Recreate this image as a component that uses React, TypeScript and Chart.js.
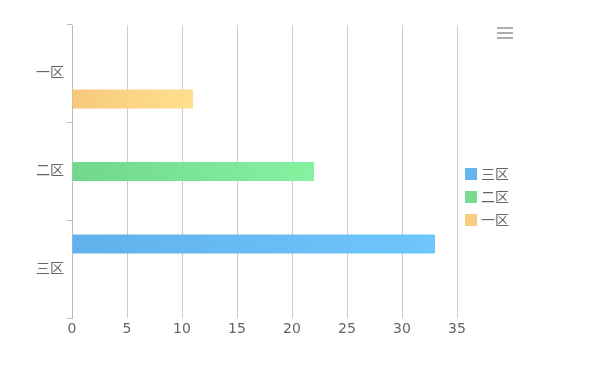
import React, { useEffect, useRef } from "react";
import { Chart, registerables } from "chart.js";

Chart.register(...registerables);

const categories = ["一区", "二区", "三区"];
const seriesNames = ["三区", "二区", "一区"];
const seriesValues: (number | null)[][] = [
  [null, null, 33],
  [null, 22, null],
  [11, null, null],
];
const xTicks = [0, 5, 10, 15, 20, 25, 30, 35];
const gradientStops = [
  ["#62b0ec", "#6ec6fd"],
  ["#72d78c", "#85f2a0"],
  ["#f7c87c", "#fee08d"],
];
const legendColors = ["#64b4f0", "#7adb90", "#f9cd7d"];

const FONT = "'DejaVu Sans', 'Noto Sans CJK SC', sans-serif";

export default function App() {
  const ref = useRef<HTMLCanvasElement | null>(null);

  useEffect(() => {
    document.body.style.margin = "0";
    const canvas = ref.current!;
    const makeGrad = (idx: number) => (ctx: any) => {
      const chart = ctx.chart;
      const area = chart.chartArea;
      if (!area) return gradientStops[idx][0];
      const xs = chart.scales.x;
      const x0 = xs.getPixelForValue(0);
      const v = ctx.raw ?? 0;
      const x1 = xs.getPixelForValue(v);
      const g = chart.ctx.createLinearGradient(x0, 0, Math.max(x1, x0 + 1), 0);
      g.addColorStop(0, gradientStops[idx][0]);
      g.addColorStop(1, gradientStops[idx][1]);
      return g;
    };

    const toolbox = {
      id: "toolbox",
      afterDraw(chart: any) {
        const c = chart.ctx;
        c.save();
        c.strokeStyle = "#999";
        c.lineWidth = 1.6;
        for (const y of [28, 33, 38]) {
          c.beginPath();
          c.moveTo(497, y);
          c.lineTo(513, y);
          c.stroke();
        }
        c.restore();
      },
    };

    const customLegend = {
      id: "customLegend",
      afterDraw(chart: any) {
        const c = chart.ctx;
        c.save();
        c.font = `14px ${FONT}`;
        c.textBaseline = "middle";
        chart.data.datasets.forEach((ds: any, i: number) => {
          const y = 174 + i * 23;
          c.fillStyle = legendColors[i];
          c.fillRect(465, y - 6, 12, 12);
          c.fillStyle = "#666";
          c.fillText(ds.label, 481, y + 1);
        });
        c.restore();
      },
    };

    const chart = new Chart(canvas, {
      type: "bar",
      data: {
        labels: categories,
        datasets: seriesNames.map((name, i) => ({
          label: name,
          data: seriesValues[i],
          backgroundColor: makeGrad(i),
          categoryPercentage: 0.77,
          barPercentage: 0.76,
        })),
      },
      options: {
        indexAxis: "y",
        animation: false,
        responsive: false,
        maintainAspectRatio: false,
        layout: { padding: { top: 25, right: 155, left: 0, bottom: 0 } },
        plugins: {
          legend: { display: false },
          tooltip: { enabled: false },
        },
        scales: {
          x: {
            min: 0,
            max: 35,
            afterBuildTicks: (s: any) => {
              s.ticks = xTicks.map((v) => ({ value: v }));
            },
            afterFit: (s: any) => {
              s.height = 54;
            },
            grid: { color: "#ccc", drawTicks: false, lineWidth: 1 },
            border: { display: false },
            ticks: {
              color: "#666",
              padding: 3,
              font: { family: FONT, size: 14 },
            },
          },
          y: {
            afterFit: (s: any) => {
              s.width = 72;
            },
            grid: {
              drawOnChartArea: false,
              drawTicks: true,
              tickLength: 5,
              color: "#bbb",
              offset: true,
            },
            border: { display: true, color: "#bbb" },
            ticks: {
              color: "#666",
              padding: 3,
              font: { family: FONT, size: 14 },
            },
          },
        },
      },
      plugins: [toolbox, customLegend],
    });
    return () => chart.destroy();
  }, []);

  return (
    <div style={{ width: 612, height: 372 }}>
      <canvas ref={ref} width={612} height={372} style={{ display: "block" }} />
    </div>
  );
}
